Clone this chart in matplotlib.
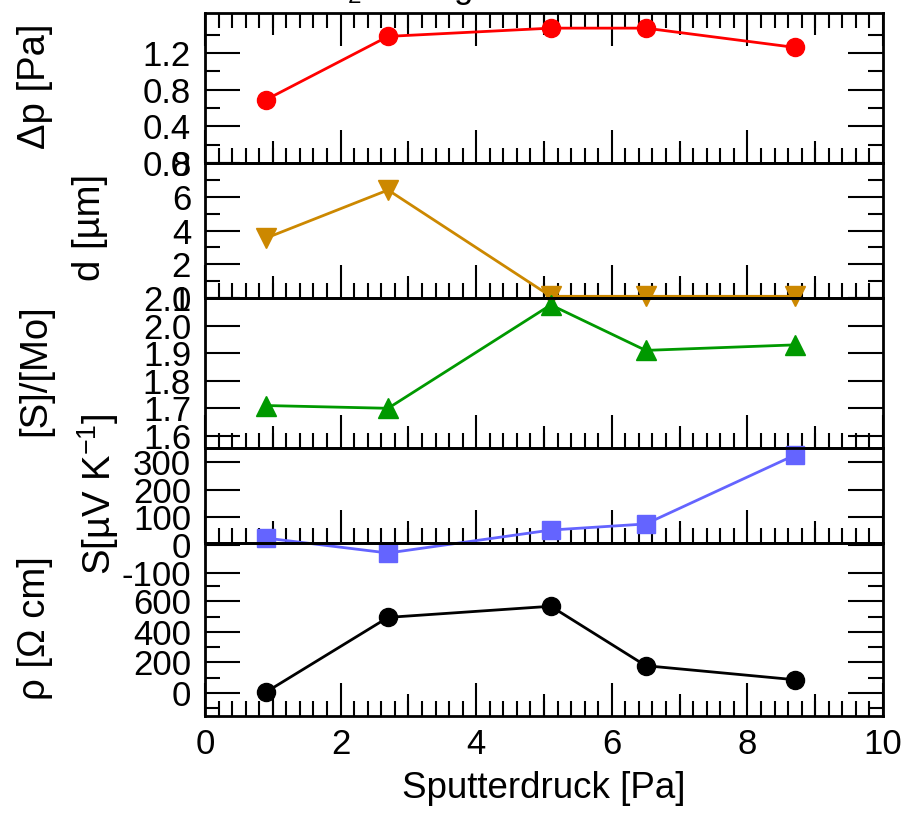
import numpy as np
import matplotlib.pyplot as plt
from matplotlib.ticker import FixedLocator, FormatStrFormatter
#
plt.rcParams['font.family'] = ['Liberation Sans', 'DejaVu Sans']
plt.rcParams['mathtext.fontset'] = 'custom'
plt.rcParams['mathtext.rm'] = 'Liberation Sans'
plt.rcParams['mathtext.it'] = 'Liberation Sans:italic'

pressure = [0.9, 2.7, 5.1, 6.5, 8.7]
delta_p = [0.69, 1.38, 1.47, 1.47, 1.26]
thickness = [3.55, 6.4, 0.1, 0.1, 0.1]
s_mo_ratio = [1.71, 1.70, 2.075, 1.91, 1.93]
seebeck = [25, -29, 54, 76, 325]
resistivity = [5, 495, 568, 178, 86]

W, H = 908, 817
LEFT, RIGHT = 205, 883
FS = 25
LW = 2.0
#
def box(top, bottom):
	# pixel rows of a panel -> figure rect
	return [LEFT / W, 1 - bottom / H, (RIGHT - LEFT) / W, (bottom - top) / H]
#
def style_x(ax, top=False, labels=False):
	ax.set_xlim(0, 10)
	ax.xaxis.set_major_locator(FixedLocator([0, 2, 4, 6, 8, 10]))
	ax.xaxis.set_minor_locator(FixedLocator(np.arange(0, 10.01, 0.2)))
	ax.tick_params(axis='x', which='major', direction='in', length=24, width=1.5,
		top=top, bottom=True, labelbottom=labels, labelsize=FS, pad=9)
	ax.tick_params(axis='x', which='minor', direction='in', length=11, width=1.5,
		top=top, bottom=True)
	sides = ['bottom', 'top'] if top else ['bottom']
	for side in sides:
		sec = ax.secondary_xaxis(side)
		sec.set_xticks([1, 3, 5, 7, 9])
		sec.tick_params(direction='in', length=16, width=1.5,
			labelbottom=False, labeltop=False)
		sec.spines[side].set_visible(False)
	for sp in ax.spines.values():
		sp.set_linewidth(2.0)
	ax.patch.set_visible(False)
#
def style_y(ax, ylim, major, minor, fmt):
	ax.set_ylim(*ylim)
	ax.yaxis.set_major_locator(FixedLocator(major))
	ax.yaxis.set_major_formatter(FormatStrFormatter(fmt))
	ax.yaxis.set_minor_locator(FixedLocator(minor))
	ax.tick_params(axis='y', which='major', direction='in', length=25, width=1.5,
		left=True, right=True, labelsize=FS, pad=10)
	ax.tick_params(axis='y', which='minor', direction='in', length=11, width=1.5,
		left=True, right=True)
#
def main():
	fig = plt.figure(figsize=(W / 100, H / 100), dpi=100)

	ax1 = fig.add_axes(box(13, 163))
	ax1.plot(pressure, delta_p, '-o', color='#ff0000', lw=LW, ms=13, clip_on=False)
	style_x(ax1, top=True)
	style_y(ax1, (0, 1.635), [0, 0.4, 0.8, 1.2], [0.2, 0.6, 1.0, 1.4], '%.1f')

	ax2 = fig.add_axes(box(163, 298))
	ax2.plot(pressure, thickness, '-v', color='#cc8800', lw=LW, ms=14, clip_on=False)
	style_x(ax2)
	style_y(ax2, (0, 8), [0, 2, 4, 6, 8], [1, 3, 5, 7], '%d')

	ax3 = fig.add_axes(box(298, 448))
	ax3.plot(pressure, s_mo_ratio, '-^', color='#009900', lw=LW, ms=14, clip_on=False)
	style_x(ax3)
	style_y(ax3, (1.556, 2.1), [1.6, 1.7, 1.8, 1.9, 2.0, 2.1], [], '%.1f')

	ax4 = fig.add_axes(box(448, 543))
	ax4.plot(pressure, seebeck, '-s', color='#6464ff', lw=LW, ms=13, clip_on=False)
	style_x(ax4)
	ax4.set_ylim(7.2, 350.6)
	ax4.set_yticks([])
	# tick labels of the S panel run on below its frame
	ax4s = fig.add_axes(box(448, 580))
	ax4s.set_xlim(0, 10)
	ax4s.set_xticks([])
	for sp in ax4s.spines.values():
		sp.set_visible(False)
	ax4s.patch.set_visible(False)
	style_y(ax4s, (-126.6, 350.6), [-100, 0, 100, 200, 300], [], '%d')

	ax5 = fig.add_axes(box(543, 716))
	ax5.plot(pressure, resistivity, '-o', color='black', lw=LW, ms=13, clip_on=False)
	style_x(ax5, labels=True)
	style_y(ax5, (-152, 983), [0, 200, 400, 600], [-100, 100, 300, 500, 700], '%d')
	ax5.set_xlabel('Sputterdruck [Pa]', fontsize=26.5, labelpad=7)

	ylabels = [('Δp [Pa]', 35, 86), ('d [µm]', 90, 227), ('[S]/[Mo]', 35, 370),
		('S[µV K$^{-1}$]', 98, 494), ('ρ [Ω cm]', 35, 628)]
	for text, x, y in ylabels:
		fig.text(x / W, 1 - y / H, text, rotation=90, ha='center', va='center', fontsize=27.5)

	# title sits above the visible area, only its descenders show
	fig.text(276 / W, (H + 2) / H, 'MoS$_2$ auf Ag', fontsize=FS, va='baseline')

	fig.savefig('out.png', dpi=100)
#
if __name__ == '__main__':
	main()
